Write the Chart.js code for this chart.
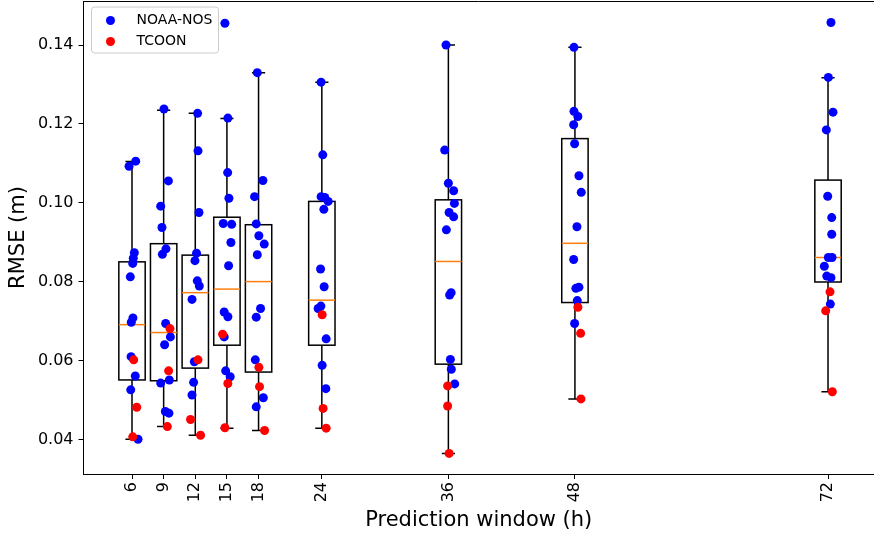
<!DOCTYPE html>
<html>
<head>
<meta charset="utf-8">
<script src="https://cdn.jsdelivr.net/npm/chart.js@4"></script>
<style>
  html, body { margin: 0; padding: 0; background: #fff; }
  #wrap { width: 874px; height: 537px; }
</style>
</head>
<body>
<div id="wrap"><canvas id="chart" width="874" height="537"></canvas></div>
<script>
// prediction windows (h)
const hours = [6, 9, 12, 15, 18, 24, 36, 48, 72]
const yTicks = [0.04, 0.06, 0.08, 0.10, 0.12, 0.14]

// RMSE per window, NOAA-NOS stations
const noaaRmse = [
    [0.1106, 0.1093, 0.0874, 0.0860, 0.0847, 0.0813, 0.0709, 0.0698, 0.0611, 0.0562, 0.0527, 0.0402],
    [0.1238, 0.1056, 0.0992, 0.0938, 0.0884, 0.0870, 0.0695, 0.0661, 0.0641, 0.0552, 0.0544, 0.0472, 0.0468],
    [0.1227, 0.1132, 0.0976, 0.0873, 0.0854, 0.0803, 0.0790, 0.0756, 0.0598, 0.0546, 0.0514],
    [0.1455, 0.1215, 0.1077, 0.1012, 0.0948, 0.0946, 0.0900, 0.0841, 0.0724, 0.0712, 0.0661, 0.0575, 0.0560],
    [0.1330, 0.1057, 0.1016, 0.0947, 0.0917, 0.0896, 0.0869, 0.0733, 0.0711, 0.0603, 0.0507, 0.0484],
    [0.1306, 0.1122, 0.1016, 0.1014, 0.1004, 0.0984, 0.0833, 0.0788, 0.0739, 0.0733, 0.0656, 0.0589, 0.0530],
    [0.1400, 0.1134, 0.1050, 0.1031, 0.0999, 0.0976, 0.0965, 0.0932, 0.0773, 0.0767, 0.0604, 0.0579, 0.0542],
    [0.1394, 0.1232, 0.1219, 0.1198, 0.1150, 0.1069, 0.1027, 0.0940, 0.0857, 0.0784, 0.0787, 0.0753, 0.0695],
    [0.1457, 0.1318, 0.1230, 0.1185, 0.1017, 0.0963, 0.0921, 0.0862, 0.0862, 0.0840, 0.0815, 0.0811, 0.0744]
]
// horizontal jitter (h) of each NOAA point
const noaaJitter = [
    [0.35, -0.28, 0.22, 0.12, 0.07, -0.16, 0.09, -0.07, -0.09, 0.31, -0.12, 0.57],
    [0.03, 0.45, -0.28, -0.16, 0.22, -0.12, 0.19, 0.64, 0.09, 0.54, -0.28, 0.16, 0.50],
    [0.22, 0.26, 0.35, 0.12, -0.03, 0.19, 0.38, -0.31, -0.09, -0.16, -0.31],
    [-0.19, 0.09, 0.07, 0.19, -0.35, 0.45, 0.38, 0.16, -0.26, 0.09, -0.26, -0.12, 0.31],
    [-0.12, 0.41, -0.38, -0.22, 0.03, 0.54, -0.12, 0.19, -0.22, -0.31, 0.45, -0.22],
    [-0.07, 0.09, -0.07, 0.28, 0.60, 0.19, -0.12, 0.22, -0.09, -0.35, 0.41, 0.03, 0.38],
    [-0.22, -0.35, 0.00, 0.50, 0.57, 0.07, 0.50, -0.19, 0.26, 0.12, 0.19, 0.28, 0.60],
    [-0.09, -0.09, 0.28, -0.12, -0.03, 0.38, 0.60, 0.19, -0.12, 0.09, 0.38, 0.22, -0.03],
    [0.28, 0.03, 0.47, -0.16, -0.03, 0.35, 0.35, 0.03, 0.38, -0.35, -0.12, 0.28, 0.22]
]

// RMSE per window, TCOON stations
const tcoonRmse = [
    [0.0603, 0.0483, 0.0408],
    [0.0682, 0.0575, 0.0434],
    [0.0603, 0.0452, 0.0412],
    [0.0668, 0.0543, 0.0431],
    [0.0584, 0.0535, 0.0424],
    [0.0717, 0.0480, 0.0430],
    [0.0537, 0.0486, 0.0366],
    [0.0736, 0.0670, 0.0504],
    [0.0775, 0.0727, 0.0522]
]
const tcoonJitter = [
    [0.16, 0.45, 0.07],
    [0.60, 0.47, 0.35],
    [0.26, -0.45, 0.50],
    [-0.41, 0.09, -0.19],
    [0.03, 0.09, 0.57],
    [0.03, 0.12, 0.41],
    [-0.07, -0.07, 0.07],
    [0.28, 0.54, 0.57],
    [0.19, -0.22, 0.41]
]

// box plot stats
const boxQ1 = [0.0552, 0.0550, 0.0582, 0.0640, 0.0572, 0.0640, 0.0592, 0.0748, 0.0800]
const boxMedian = [0.0692, 0.0672, 0.0773, 0.0782, 0.0801, 0.0754, 0.0852, 0.0898, 0.0862]
const boxQ3 = [0.0851, 0.0897, 0.0868, 0.0964, 0.0945, 0.1004, 0.1008, 0.1163, 0.1058]
const whiskerLow = [0.0402, 0.0434, 0.0412, 0.0430, 0.0424, 0.0430, 0.0366, 0.0504, 0.0522]
const whiskerHigh = [0.1105, 0.1235, 0.1227, 0.1214, 0.1330, 0.1306, 0.1400, 0.1394, 0.1317]

const boxWidth = 2.5 // in hours, same units as the x axis

const toPoints = (vals, jit) =>
    hours.flatMap((h, i) => vals[i].map((v, j) => ({ x: h + jit[i][j], y: v })))

const FONT = '"DejaVu Sans", "Liberation Sans", sans-serif'
Chart.defaults.font.family = FONT
Chart.defaults.color = '#000'

// boxes + whiskers, drawn under the points
const boxPlugin = {
    id: 'boxes',
    beforeDatasetsDraw(chart) {
        const { ctx, scales: { x, y } } = chart
        ctx.save()
        hours.forEach((h, i) => {
            const xc = x.getPixelForValue(h)
            const xl = x.getPixelForValue(h - boxWidth / 2)
            const xr = x.getPixelForValue(h + boxWidth / 2)
            const cl = x.getPixelForValue(h - boxWidth / 4)
            const cr = x.getPixelForValue(h + boxWidth / 4)
            const yq1 = y.getPixelForValue(boxQ1[i])
            const yq3 = y.getPixelForValue(boxQ3[i])
            const ymed = y.getPixelForValue(boxMedian[i])
            const ylo = y.getPixelForValue(whiskerLow[i])
            const yhi = y.getPixelForValue(whiskerHigh[i])

            ctx.strokeStyle = '#000'
            ctx.lineWidth = 1.5
            ctx.beginPath()
            ctx.moveTo(xc, yq3); ctx.lineTo(xc, yhi)
            ctx.moveTo(xc, yq1); ctx.lineTo(xc, ylo)
            ctx.moveTo(cl, yhi); ctx.lineTo(cr, yhi)
            ctx.moveTo(cl, ylo); ctx.lineTo(cr, ylo)
            ctx.stroke()
            ctx.strokeRect(xl, yq3, xr - xl, yq1 - yq3)

            ctx.strokeStyle = '#ff7f0e'
            ctx.beginPath()
            ctx.moveTo(xl, ymed); ctx.lineTo(xr, ymed)
            ctx.stroke()
        })
        ctx.restore()
    },
    afterDraw(chart) {
        // top spine
        const { ctx, chartArea } = chart
        ctx.save()
        ctx.strokeStyle = '#000'
        ctx.lineWidth = 1
        ctx.beginPath()
        ctx.moveTo(chartArea.left, chartArea.top + 0.5)
        ctx.lineTo(chartArea.right, chartArea.top + 0.5)
        ctx.stroke()
        ctx.restore()
    }
}

// matplotlib-like legend in the upper left corner of the axes
const legendPlugin = {
    id: 'innerLegend',
    afterDatasetsDraw(chart) {
        const { ctx, chartArea } = chart
        const left = chartArea.left + 8, top = chartArea.top + 6
        const w = 127, h = 46
        ctx.save()
        ctx.fillStyle = 'rgba(255,255,255,0.8)'
        ctx.strokeStyle = '#cccccc'
        ctx.lineWidth = 1
        ctx.beginPath()
        ctx.roundRect(left, top, w, h, 3)
        ctx.fill()
        ctx.stroke()
        ctx.font = '14px ' + FONT
        ctx.textBaseline = 'middle'
        chart.data.datasets.forEach((ds, k) => {
            const cy = top + 13.5 + k * 21
            ctx.fillStyle = ds.backgroundColor
            ctx.beginPath()
            ctx.arc(left + 19, cy, 4.5, 0, Math.PI * 2)
            ctx.fill()
            ctx.fillStyle = '#000'
            ctx.fillText(ds.label, left + 45, cy)
        })
        ctx.restore()
    }
}

new Chart(document.getElementById('chart'), {
    type: 'scatter',
    data: {
        datasets: [{
            label: 'NOAA-NOS',
            data: toPoints(noaaRmse, noaaJitter),
            backgroundColor: '#0000ff',
            borderWidth: 0,
            pointRadius: 4.5,
            order: 2
        }, {
            label: 'TCOON',
            data: toPoints(tcoonRmse, tcoonJitter),
            backgroundColor: '#ff0000',
            borderWidth: 0,
            pointRadius: 4.5,
            order: 1
        }]
    },
    options: {
        responsive: false,
        animation: false,
        devicePixelRatio: 1,
        layout: { autoPadding: false, padding: { top: 1, right: 0, left: 0, bottom: 0 } },
        plugins: {
            legend: { display: false },
            tooltip: { enabled: false }
        },
        scales: {
            x: {
                type: 'linear',
                min: 1.40,
                max: 76.36,
                afterFit: (s) => {
                    s.height = 63
                    s.paddingLeft = 0
                    s.paddingRight = 0
                },
                afterBuildTicks: (s) => { s.ticks = hours.map(v => ({ value: v })) },
                grid: { drawOnChartArea: false, tickLength: 5, tickColor: '#000' },
                border: { color: '#000', width: 1 },
                ticks: {
                    autoSkip: false,
                    minRotation: 90,
                    maxRotation: 90,
                    padding: 3,
                    font: { size: 16 },
                    callback: (v) => String(v)
                },
                title: {
                    display: true,
                    text: 'Prediction window (h)',
                    font: { size: 21 },
                    padding: { top: 0, bottom: 3.4 }
                }
            },
            y: {
                type: 'linear',
                min: 0.03139,
                max: 0.15114,
                afterFit: (s) => {
                    s.width = 83.5
                    s.paddingTop = 0
                    s.paddingBottom = 0
                },
                afterBuildTicks: (s) => { s.ticks = yTicks.map(v => ({ value: v })) },
                grid: { drawOnChartArea: false, tickLength: 5, tickColor: '#000' },
                border: { color: '#000', width: 1 },
                ticks: {
                    padding: 5,
                    font: { size: 16 },
                    callback: (v) => Number(v).toFixed(2)
                },
                title: {
                    display: true,
                    text: 'RMSE (m)',
                    font: { size: 21 },
                    padding: { top: 5.5, bottom: 0 }
                }
            }
        }
    },
    plugins: [boxPlugin, legendPlugin]
})
</script>
</body>
</html>
